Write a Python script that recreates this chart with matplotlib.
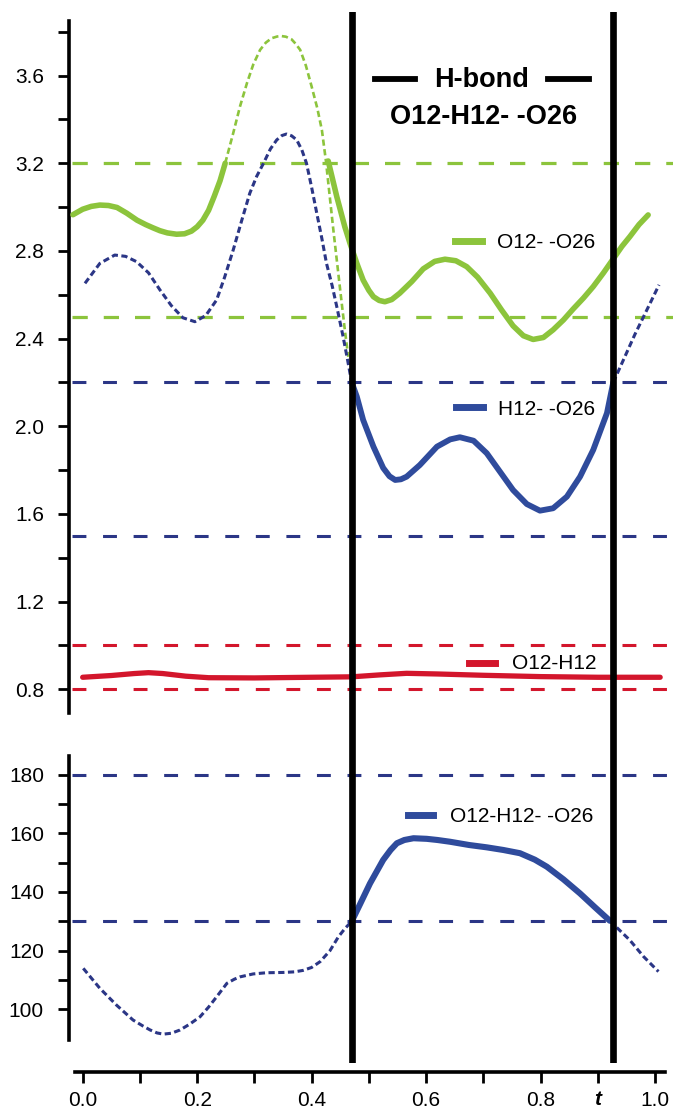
import numpy as np
import matplotlib.pyplot as plt
from matplotlib.lines import Line2D
from matplotlib.ticker import FixedLocator

plt.rcParams['font.family'] = ['Liberation Sans', 'DejaVu Sans']
plt.rcParams['lines.scale_dashes'] = False

# ---- data (t = normalised time) ----
# O12- -O26 distance, first bonded stretch (solid)
oo_t1 = [-0.017, 0.0, 0.015, 0.03, 0.045, 0.06, 0.077, 0.095, 0.11, 0.123, 0.135, 0.148,
         0.164, 0.178, 0.19, 0.2, 0.21, 0.22, 0.23, 0.24, 0.249]
oo_v1 = [2.965, 2.99, 3.003, 3.009, 3.007, 2.998, 2.972, 2.94, 2.92, 2.905, 2.892, 2.882,
         2.876, 2.878, 2.89, 2.91, 2.94, 2.985, 3.05, 3.12, 3.20]
# O12- -O26 above cutoff (dashed)
oo_dash_t = [0.249, 0.263, 0.275, 0.287, 0.298, 0.31, 0.32, 0.33, 0.34, 0.347, 0.355,
             0.365, 0.372, 0.38, 0.39, 0.40, 0.41, 0.418, 0.425, 0.438, 0.45, 0.458, 0.464]
oo_dash_v = [3.20, 3.337, 3.46, 3.565, 3.65, 3.717, 3.75, 3.77, 3.778, 3.78, 3.777,
             3.765, 3.745, 3.717, 3.645, 3.55, 3.45, 3.35, 3.21, 2.895, 2.62, 2.44, 2.317]
# O12- -O26 second stretch (solid)
oo_t2 = [0.429, 0.444, 0.458, 0.467, 0.479, 0.490, 0.5, 0.508, 0.518, 0.528, 0.54, 0.554,
         0.575, 0.595, 0.615, 0.633, 0.652, 0.671, 0.69, 0.712, 0.732, 0.752, 0.77, 0.787,
         0.805, 0.822, 0.84, 0.857, 0.875, 0.892, 0.91, 0.926, 0.942, 0.956, 0.972, 0.988]
oo_v2 = [3.21, 3.047, 2.91, 2.835, 2.743, 2.667, 2.62, 2.591, 2.574, 2.568, 2.578, 2.607,
         2.66, 2.718, 2.752, 2.762, 2.755, 2.728, 2.68, 2.607, 2.53, 2.458, 2.413, 2.396,
         2.405, 2.44, 2.485, 2.535, 2.585, 2.637, 2.70, 2.76, 2.82, 2.865, 2.92, 2.964]

# H12- -O26 distance
ho_dash_t1 = [0.004, 0.03, 0.056, 0.075, 0.094, 0.115, 0.135, 0.155, 0.175, 0.196, 0.215,
              0.234, 0.248, 0.263, 0.278, 0.292, 0.304, 0.316, 0.328, 0.339, 0.348, 0.356,
              0.365, 0.374, 0.383, 0.391, 0.4, 0.409, 0.418, 0.426, 0.436, 0.444, 0.455,
              0.463, 0.47]
ho_dash_v1 = [2.652, 2.743, 2.781, 2.775, 2.751, 2.70, 2.622, 2.55, 2.495, 2.477, 2.505,
              2.576, 2.68, 2.804, 2.94, 3.063, 3.14, 3.2, 3.265, 3.306, 3.326, 3.333,
              3.325, 3.306, 3.26, 3.2, 3.09, 2.972, 2.855, 2.743, 2.64, 2.545, 2.409,
              2.3, 2.2]
ho_t = [0.47, 0.479, 0.49, 0.508, 0.525, 0.536, 0.546, 0.556, 0.566, 0.589, 0.619, 0.642,
        0.659, 0.683, 0.706, 0.729, 0.752, 0.776, 0.799, 0.822, 0.846, 0.869, 0.892,
        0.916, 0.927]
ho_v = [2.2, 2.135, 2.029, 1.907, 1.81, 1.772, 1.755, 1.758, 1.77, 1.823, 1.907, 1.94,
        1.95, 1.934, 1.877, 1.793, 1.709, 1.645, 1.615, 1.626, 1.679, 1.77, 1.892,
        2.06, 2.2]
ho_dash_t2 = [0.927, 0.95, 0.965, 0.98, 0.994, 1.007]
ho_dash_v2 = [2.2, 2.333, 2.42, 2.5, 2.575, 2.645]

# O12-H12 distance
oh_t = [0.0, 0.05, 0.09, 0.115, 0.14, 0.18, 0.22, 0.3, 0.4, 0.47, 0.52, 0.566,
        0.62, 0.7, 0.8, 0.9, 1.009]
oh_v = [0.855, 0.863, 0.872, 0.876, 0.872, 0.86, 0.853, 0.852, 0.855, 0.857, 0.866,
        0.873, 0.87, 0.864, 0.858, 0.855, 0.855]

# O12-H12- -O26 angle
ang_dash_t1 = [0.001, 0.030, 0.059, 0.088, 0.105, 0.118, 0.13, 0.141, 0.155, 0.17, 0.187,
               0.205, 0.22, 0.234, 0.252, 0.265, 0.275, 0.298, 0.321, 0.35, 0.37, 0.385,
               0.40, 0.415, 0.432, 0.447, 0.458, 0.47]
ang_dash_v1 = [114.0, 107.2, 101.5, 96.4, 94.4, 93.0, 92.0, 91.6, 91.9, 93.0, 95.0,
               97.5, 100.8, 104.3, 108.9, 110.3, 111.1, 112.1, 112.5, 112.6, 112.8, 113.3,
               114.3, 116.3, 120.0, 124.8, 127.5, 130.0]
ang_t = [0.47, 0.485, 0.502, 0.525, 0.538, 0.549, 0.562, 0.578, 0.601, 0.62, 0.642, 0.675,
         0.706, 0.735, 0.764, 0.79, 0.811, 0.84, 0.869, 0.895, 0.921]
ang_v = [130.0, 136.0, 142.9, 150.9, 154.3, 156.6, 157.7, 158.3, 158.1, 157.7, 157.1,
         156.0, 155.2, 154.3, 153.2, 151.0, 148.6, 144.3, 139.5, 134.8, 130.2]
ang_dash_t2 = [0.921, 0.956, 0.98, 1.006]
ang_dash_v2 = [130.2, 123.6, 118.0, 112.9]

# cut-offs
oo_lims = [2.5, 3.2]
ho_lims = [1.5, 2.2]
oh_lims = [0.8, 1.0]
ang_lims = [130, 180]

hbond_start, hbond_end = 0.47, 0.926

GREEN = '#8cc43c'
BLUE = '#2f4b9c'
NAVY = '#2b3686'
RED = '#d3162c'

W, H = 673, 1113
fig = plt.figure(figsize=(W / 100, H / 100), dpi=100)


def px_box(x0, y0, x1, y1):
    # axes rectangle from pixel corners (top-left origin)
    return [x0 / W, 1 - y1 / H, (x1 - x0) / W, (y1 - y0) / H]


def fxy(px, py):
    return px / W, 1 - py / H


XLIM = (-0.0239, 1.0314)
ax1 = fig.add_axes(px_box(69, 20.7, 673, 713))
ax2 = fig.add_axes(px_box(69, 756, 673, 1040))
ax3 = fig.add_axes(px_box(69, 12, 673, 1063))

solid = dict(solid_capstyle='round', solid_joinstyle='round', zorder=3)
thin_dash = dict(dashes=(4.5, 2.5), zorder=2)

# ---------- top panel: distances ----------
for v in oo_lims:
    ax1.axhline(v, xmin=0.005, color=GREEN, lw=2.3, dashes=(11, 11.5), zorder=1)
for v in ho_lims:
    ax1.axhline(v, xmin=0.005, color=NAVY, lw=2.2, dashes=(10, 12), zorder=1)
for v in oh_lims:
    ax1.axhline(v, xmin=0.005, color=RED, lw=2.2, dashes=(10, 12), zorder=1)

ax1.plot(oo_dash_t, oo_dash_v, color=GREEN, lw=1.9, **thin_dash)
ax1.plot(oo_t1, oo_v1, color=GREEN, lw=4, **solid)
ax1.plot(oo_t2, oo_v2, color=GREEN, lw=4, **solid)

ax1.plot(ho_dash_t1, ho_dash_v1, color=NAVY, lw=2.2, **thin_dash)
ax1.plot(ho_dash_t2, ho_dash_v2, color=NAVY, lw=2.2, **thin_dash)
ax1.plot(ho_t, ho_v, color=BLUE, lw=4.2, **solid)

ax1.plot(oh_t, oh_v, color=RED, lw=3.8, **solid)

ax1.set_xlim(*XLIM)
ax1.set_ylim(0.692, 3.85)
ax1.yaxis.set_major_locator(FixedLocator(np.arange(0.8, 3.61, 0.4)))
ax1.yaxis.set_minor_locator(FixedLocator(np.arange(1.0, 3.81, 0.4)))
ax1.yaxis.set_major_formatter(plt.FuncFormatter(lambda v, p: f'{v:.1f}'))
ax1.set_xticks([])
for s in ['top', 'right', 'bottom']:
    ax1.spines[s].set_visible(False)

# ---------- bottom panel: angle ----------
for v in ang_lims:
    ax2.axhline(v, xmin=0.005, color=NAVY, lw=2.2, dashes=(10, 12), zorder=1)
ax2.plot(ang_dash_t1, ang_dash_v1, color=NAVY, lw=2.2, **thin_dash)
ax2.plot(ang_dash_t2, ang_dash_v2, color=NAVY, lw=2.2, **thin_dash)
ax2.plot(ang_t, ang_v, color=BLUE, lw=4.4, **solid)

ax2.set_xlim(*XLIM)
ax2.set_ylim(89.6, 186.3)
ax2.yaxis.set_major_locator(FixedLocator([100, 120, 140, 160, 180]))
ax2.yaxis.set_minor_locator(FixedLocator([110, 130, 150, 170]))
xt = np.round(np.arange(0, 1.01, 0.1), 1)
ax2.set_xticks(xt)
ax2.set_xticklabels(['0.0', '', '0.2', '', '0.4', '', '0.6', '', '0.8', '', '1.0'])
for s in ['top', 'right']:
    ax2.spines[s].set_visible(False)
ax2.spines['bottom'].set_position(('outward', 23))
ax2.spines['bottom'].set_bounds(-0.0135, 1.0175)

for ax in (ax1, ax2):
    ax.set_facecolor('none')
    ax.spines['left'].set_linewidth(2.6)
    ax.spines['bottom'].set_linewidth(2.6)
    ax.tick_params(which='both', direction='out', length=8, width=2,
                   labelsize=15, color='black')
    ax.tick_params(axis='y', which='both', pad=10)
    ax.tick_params(axis='x', which='both', pad=6)

# italic "t" under the 0.9 tick
ax2.annotate('t', xy=(0.9, 0), xycoords=ax2.get_xaxis_transform(),
             xytext=(0, -47), textcoords='offset points', ha='center', va='baseline',
             fontsize=15, fontstyle='italic', fontweight='bold', annotation_clip=False)

# ---------- H-bond window ----------
ax3.set_xlim(*XLIM)
ax3.set_ylim(0, 1)
ax3.axis('off')
for t in (hbond_start, hbond_end):
    ax3.axvline(t, color='black', lw=4.8, zorder=5)

# ---------- annotations ----------
def seg(x0, x1, y, color, lw):
    (a, b), (c, _) = fxy(x0, y), fxy(x1, y)
    fig.add_artist(Line2D([a, c], [b, b], transform=fig.transFigure,
                          color=color, lw=lw))


def label(x, y, s, **kw):
    a, b = fxy(x, y)
    fig.text(a, b, s, ha='left', va='baseline', **kw)


seg(375, 415, 79, 'black', 4.2)
seg(548, 589, 79, 'black', 4.2)
fig.text(*fxy(482, 86.7), 'H-bond', ha='center', va='baseline',
         fontsize=19.5, fontweight='bold')
fig.text(*fxy(484, 124), 'O12-H12- -O26', ha='center', va='baseline',
         fontsize=19.5, fontweight='bold')

seg(455, 482, 240.7, GREEN, 5)
label(496.7, 248.3, 'O12- -O26', fontsize=15)
seg(456, 483, 407.3, BLUE, 5)
label(498, 415, 'H12- -O26', fontsize=15)
seg(469, 495, 662.7, RED, 5)
label(511.7, 669.3, 'O12-H12', fontsize=15)
seg(408, 433, 815, BLUE, 5)
label(450, 821.7, 'O12-H12- -O26', fontsize=15)

fig.savefig('out.png', dpi=100)
